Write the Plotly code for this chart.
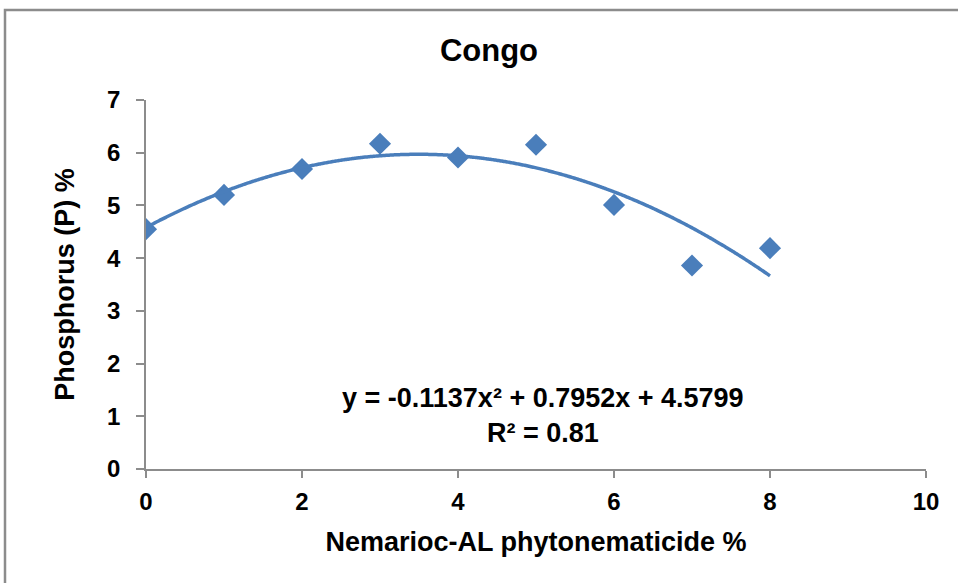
import numpy as np
import plotly.graph_objects as go

# Data
dose = [0, 1, 2, 3, 4, 5, 6, 7, 8]
phosphorus = [4.55, 5.20, 5.69, 6.17, 5.91, 6.15, 5.01, 3.86, 4.19]
# Displayed quadratic trendline coefficients (a, b, c)
trend_coef = [-0.1137, 0.7952, 4.5799]
r_squared = 0.81
x_ticks = [0, 2, 4, 6, 8, 10]
y_ticks = [0, 1, 2, 3, 4, 5, 6, 7]

BLUE = "#4a7ebb"
GRAY = "#8c8c8c"
FONT = "Liberation Sans, Arial, sans-serif"

xs = np.linspace(dose[0], dose[-1], 300)
ys = np.polyval(trend_coef, xs)

fig = go.Figure()
fig.add_trace(go.Scatter(
    x=dose, y=phosphorus, mode="markers",
    marker=dict(symbol="diamond", size=17, color=BLUE, line=dict(width=0)),
    showlegend=False, hoverinfo="x+y"))
fig.add_trace(go.Scatter(
    x=xs, y=ys, mode="lines",
    line=dict(color=BLUE, width=3.5, shape="spline"), showlegend=False, hoverinfo="skip"))

eq = "y = %.4fx² + %.4fx + %.4f<br>R² = %.2f" % (trend_coef[0], trend_coef[1], trend_coef[2], r_squared)
fig.add_annotation(x=5.09, y=1.02, xref="x", yref="y", text=eq,
                   showarrow=False,
                   font=dict(family=FONT, size=27, color="#000", weight="bold"),
                   align="center")

axis_common = dict(showgrid=False, zeroline=False, showline=True, linecolor=GRAY, linewidth=1.5,
                   ticks="outside", tickcolor=GRAY, tickwidth=1.5,
                   tickfont=dict(family=FONT, size=24, color="#000", weight="bold"))

fig.update_xaxes(range=[0, 10], tickvals=x_ticks, ticklen=7, ticklabelstandoff=3,
                 title=dict(text="Nemarioc-AL phytonematicide %",
                            font=dict(family=FONT, size=27, color="#000", weight="bold"), standoff=19),
                 **axis_common)
fig.update_yaxes(range=[0, 7], tickvals=y_ticks, ticklen=8, ticklabelstandoff=11,
                 title=dict(text="Phosphorus (P) %",
                            font=dict(family=FONT, size=27, color="#000", weight="bold"), standoff=25),
                 **axis_common)

fig.add_shape(type="rect", xref="paper", yref="paper",
              x0=(5 - 146) / 780, x1=1.1, y0=-0.4, y1=(469 - 10) / 369,
              line=dict(color=GRAY, width=2.5), fillcolor="rgba(0,0,0,0)", layer="below")

fig.update_layout(
    width=958, height=583,
    margin=dict(l=146, r=32, t=100, b=114),
    paper_bgcolor="white", plot_bgcolor="white",
    title=dict(text="Congo", x=489 / 958, xanchor="center", y=1 - 50 / 583, yanchor="middle",
               font=dict(family=FONT, size=31, color="#000", weight="bold")),
    font=dict(family=FONT),
)

fig.write_html("out.html")
